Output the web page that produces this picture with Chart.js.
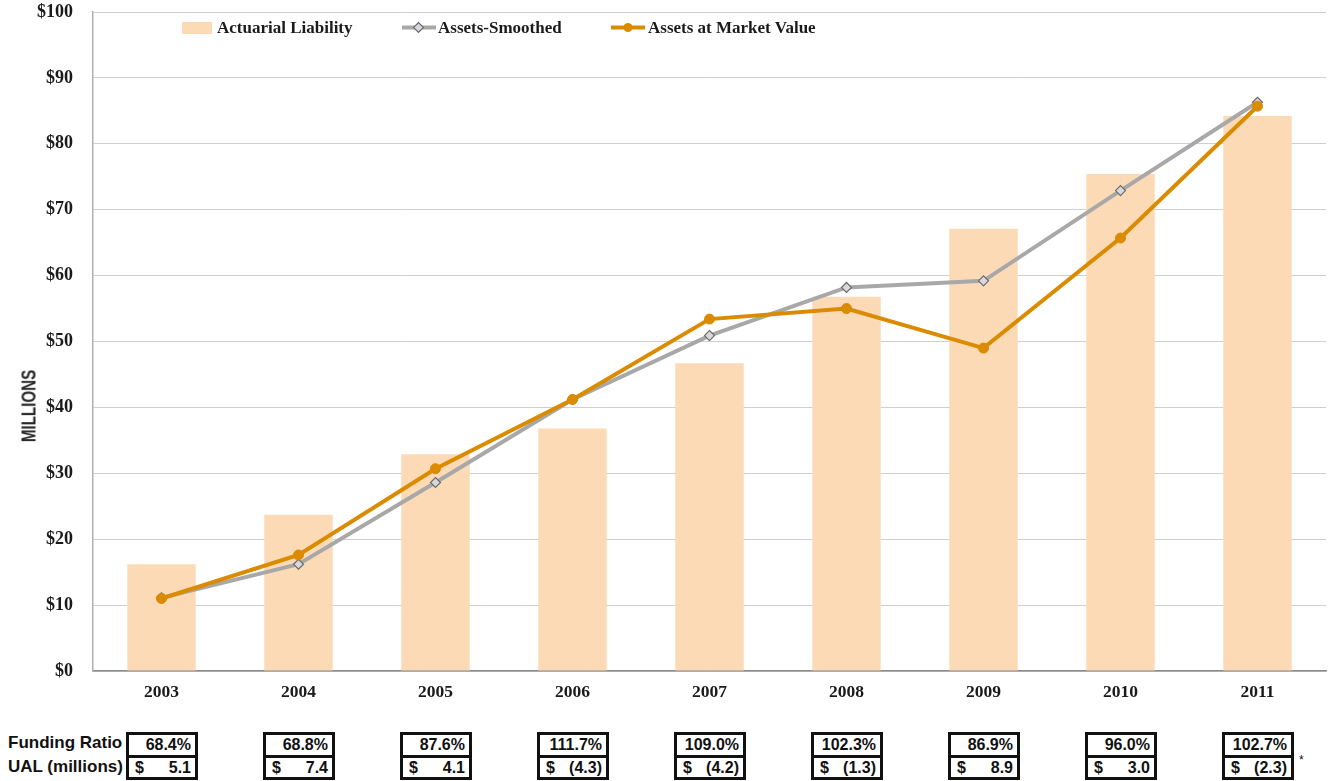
<!DOCTYPE html>
<html>
<head>
<meta charset="utf-8">
<script src="https://cdn.jsdelivr.net/npm/chart.js@4.4.1/dist/chart.umd.min.js"></script>
<style>
  html,body{margin:0;padding:0;background:#fff;}
  #wrap{position:relative;width:1334px;height:781px;overflow:hidden;}
  #c{position:absolute;left:0;top:0;}
  .lg{position:absolute;font:bold 17px "Liberation Serif",serif;color:#1a1a1a;white-space:nowrap;line-height:18px;}
  #ytitle{position:absolute;left:28px;top:406px;transform:translate(-50%,-50%) rotate(-90deg) scale(0.72,1);font:bold 21px "Liberation Sans",sans-serif;color:#262626;white-space:nowrap;line-height:21px;}
  .rowlbl{position:absolute;left:8px;font:bold 17px "Liberation Sans",Arial,sans-serif;color:#111;white-space:nowrap;line-height:20px;}
  .cell{position:absolute;box-sizing:border-box;border:3px solid #111;font:bold 16px "Liberation Sans",Arial,sans-serif;color:#111;line-height:19px;background:#fff;}
  .cell .r{position:absolute;right:4px;top:0;}
  .cell .l{position:absolute;left:6px;top:0;}
</style>
</head>
<body>
<div id="wrap">
  <canvas id="c" width="1334" height="710"></canvas>
  <div id="ytitle">MILLIONS</div>
  <div id="legend"></div>
  <div id="table"></div>
</div>
<script>
const years = ['2003','2004','2005','2006','2007','2008','2009','2010','2011'];
const actuarialLiability = [16.2, 23.7, 32.9, 36.8, 46.7, 56.8, 67.1, 75.4, 84.2];
const assetsSmoothed   = [11.1, 16.2, 28.6, 41.2, 50.9, 58.2, 59.2, 72.9, 86.3];
const assetsMarket     = [11.0, 17.6, 30.7, 41.2, 53.4, 55.0, 49.0, 65.7, 85.7];
const fundingRatio = ['68.4%','68.8%','87.6%','111.7%','109.0%','102.3%','86.9%','96.0%','102.7%'];
const ualMillions  = ['5.1','7.4','4.1','(4.3)','(4.2)','(1.3)','8.9','3.0','(2.3)'];
const yTicks = [0,10,20,30,40,50,60,70,80,90,100];

const barColor = '#FDDAB6';
const grayLine = '#A8A8A8';
const diamondFill = '#D6D8DC';
const orange = '#DA8B00';

const chart = new Chart(document.getElementById('c'), {
  data: {
    labels: years,
    datasets: [
      { type:'line', label:'Assets at Market Value', data: assetsMarket, borderColor: orange, backgroundColor: orange,
        borderWidth: 4, pointStyle:'circle', pointRadius: 5, pointBackgroundColor: orange, pointBorderColor: orange,
        pointBorderWidth: 1, tension: 0, order: 1 },
      { type:'line', label:'Assets-Smoothed', data: assetsSmoothed, borderColor: grayLine, backgroundColor: diamondFill,
        borderWidth: 4, pointStyle:'rectRot', pointRadius: 5, pointBackgroundColor: diamondFill, pointBorderColor:'#6A6A6A',
        pointBorderWidth: 1.2, tension: 0, order: 2 },
      { type:'bar', label:'Actuarial Liability', data: actuarialLiability, backgroundColor: barColor, borderWidth: 0,
        categoryPercentage: 1.0, barPercentage: 0.5, order: 3 }
    ]
  },
  options: {
    responsive: false,
    animation: false,
    layout: { padding: { top: 12, right: 8, left: 0, bottom: 0 } },
    plugins: { legend: { display: false }, tooltip: { enabled: false } },
    scales: {
      x: {
        type: 'category',
        offset: true,
        grid: { display: false, drawTicks: false },
        border: { display: true, color: '#8a8a8a', width: 1.5 },
        ticks: { color: '#1a1a1a', font: { family: '"Liberation Serif", serif', size: 17.5, weight: 'bold' }, padding: 11, maxRotation: 0 },
        afterFit: s => { s.height = 39; s.paddingLeft = 0; s.paddingRight = 0; }
      },
      y: {
        min: 0, max: 100,
        afterBuildTicks: s => { s.ticks = yTicks.map(v => ({ value: v })); },
        ticks: { color: '#1a1a1a', font: { family: '"Liberation Serif", serif', size: 18, weight: 'bold' }, padding: 20,
          callback: v => '$' + v },
        grid: { color: '#cfcfcf', lineWidth: 1, drawTicks: false },
        border: { display: true, color: '#b0b0b0', width: 1.5 },
        afterFit: s => { s.width = 93; s.paddingTop = 0; s.paddingBottom = 0; }
      }
    }
  }
});

// Legend (HTML overlay)
(function(){
  const lg = document.getElementById('legend');
  const svgLine = (color, marker) => {
    let m = marker === 'diamond'
      ? '<rect x="13" y="3" width="7" height="7" transform="rotate(45 16.5 6.5)" fill="'+diamondFill+'" stroke="#6A6A6A" stroke-width="1.2"/>'
      : '<circle cx="17" cy="6.5" r="4.5" fill="'+color+'"/>';
    return '<svg width="34" height="13" style="position:absolute;top:0;left:0"><line x1="0" y1="6.5" x2="34" y2="6.5" stroke="'+color+'" stroke-width="4"/>'+m+'</svg>';
  };
  lg.innerHTML =
    '<div style="position:absolute;left:182px;top:22px;width:30px;height:12px;background:'+barColor+'"></div>' +
    '<div class="lg" style="left:217px;top:19px">Actuarial Liability</div>' +
    '<div style="position:absolute;left:402px;top:21px;width:34px;height:13px">'+svgLine(grayLine,'diamond')+'</div>' +
    '<div class="lg" style="left:438px;top:19px">Assets-Smoothed</div>' +
    '<div style="position:absolute;left:611px;top:21px;width:34px;height:13px">'+svgLine(orange,'circle')+'</div>' +
    '<div class="lg" style="left:648px;top:19px">Assets at Market Value</div>';
})();

// Table below chart
(function(){
  const t = document.getElementById('table');
  let html = '<div class="rowlbl" style="top:733px">Funding Ratio</div>' +
             '<div class="rowlbl" style="top:757px">UAL (millions)</div>';
  const xs = chart.scales.x;
  const w = 72;
  years.forEach((y, i) => {
    const cx = xs.getPixelForValue(i);
    const left = Math.round(cx - w/2);
    html += '<div class="cell" style="left:'+left+'px;top:732px;width:'+w+'px;height:26px"><span class="r">'+fundingRatio[i]+'</span></div>';
    html += '<div class="cell" style="left:'+left+'px;top:755px;width:'+w+'px;height:25px"><span class="l">$</span><span class="r">'+ualMillions[i]+'</span></div>';
    if (i === years.length - 1) {
      html += '<div style="position:absolute;left:'+(left+w+5)+'px;top:753px;font:12px \'Liberation Sans\',Arial,sans-serif;color:#111">*</div>';
    }
  });
  t.innerHTML = html;
})();
</script>
</body>
</html>
